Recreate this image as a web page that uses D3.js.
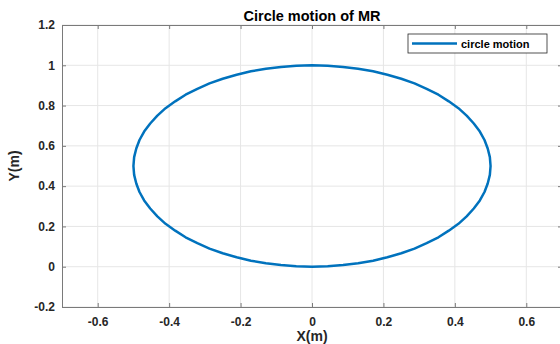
<!DOCTYPE html>
<html>
<head>
<meta charset="utf-8">
<script src="https://cdn.jsdelivr.net/npm/d3@7"></script>
<style>
  body { margin: 0; background: #fff; }
  text { font-family: "Liberation Sans", Arial, sans-serif; }
</style>
</head>
<body>
<script>
// circle path points (centre 0,0.5, radius 0.5)
const xs = [0, 0.044, 0.087, 0.129, 0.171, 0.211, 0.25, 0.287, 0.321, 0.354, 0.383, 0.410,
  0.433, 0.453, 0.470, 0.483, 0.492, 0.498, 0.5, 0.498, 0.492, 0.483, 0.470, 0.453,
  0.433, 0.410, 0.383, 0.354, 0.321, 0.287, 0.25, 0.211, 0.171, 0.129, 0.087, 0.044, 0,
  -0.044, -0.087, -0.129, -0.171, -0.211, -0.25, -0.287, -0.321, -0.354, -0.383, -0.410,
  -0.433, -0.453, -0.470, -0.483, -0.492, -0.498, -0.5, -0.498, -0.492, -0.483, -0.470, -0.453,
  -0.433, -0.410, -0.383, -0.354, -0.321, -0.287, -0.25, -0.211, -0.171, -0.129, -0.087, -0.044, 0]
const ys = [0, 0.002, 0.008, 0.017, 0.030, 0.047, 0.067, 0.090, 0.117, 0.146, 0.179, 0.213,
  0.25, 0.289, 0.329, 0.371, 0.413, 0.456, 0.5, 0.544, 0.587, 0.629, 0.671, 0.711,
  0.75, 0.787, 0.821, 0.854, 0.883, 0.910, 0.933, 0.953, 0.970, 0.983, 0.992, 0.998, 1,
  0.998, 0.992, 0.983, 0.970, 0.953, 0.933, 0.910, 0.883, 0.854, 0.821, 0.787,
  0.75, 0.711, 0.671, 0.629, 0.587, 0.544, 0.5, 0.456, 0.413, 0.371, 0.329, 0.289,
  0.25, 0.213, 0.179, 0.146, 0.117, 0.090, 0.067, 0.047, 0.030, 0.017, 0.008, 0.002, 0]
const xTicks = [-0.6, -0.4, -0.2, 0, 0.2, 0.4, 0.6]
const yTicks = [-0.2, 0, 0.2, 0.4, 0.6, 0.8, 1, 1.2]

const W = 560, H = 344
const margin = { top: 25, left: 62, bottom: 37, right: -2 }
const width = W - margin.left - margin.right
const height = H - margin.top - margin.bottom

const svg = d3.select('body').append('svg')
  .attr('width', W).attr('height', H)
const g = svg.append('g').attr('transform', `translate(${margin.left},${margin.top})`)

const x = d3.scaleLinear().domain([-0.7, 0.7]).range([0, width])
const y = d3.scaleLinear().domain([-0.2, 1.2]).range([height, 0])

// grid
g.selectAll('.gx').data(xTicks).join('line')
  .attr('x1', d => x(d)).attr('x2', d => x(d))
  .attr('y1', 0).attr('y2', height)
  .attr('stroke', '#e6e6e6').attr('stroke-width', 1)
g.selectAll('.gy').data(yTicks).join('line')
  .attr('y1', d => y(d)).attr('y2', d => y(d))
  .attr('x1', 0).attr('x2', width)
  .attr('stroke', '#e6e6e6').attr('stroke-width', 1)

// axes (ticks inward, box on)
const axisColor = '#7a7a7a'
const fmt = d => String(d)
const styleAxis = sel => {
  sel.select('.domain').attr('stroke', axisColor)
  sel.selectAll('.tick line').attr('stroke', axisColor)
  sel.selectAll('.tick text')
    .attr('fill', '#262626')
    .style('font-size', '12px')
    .style('font-weight', 'bold')
}
g.append('g').attr('transform', `translate(0,${height})`)
  .call(d3.axisBottom(x).tickValues(xTicks).tickFormat(fmt).tickSizeInner(-4).tickSizeOuter(0).tickPadding(10))
  .call(styleAxis)
g.append('g')
  .call(d3.axisLeft(y).tickValues(yTicks).tickFormat(fmt).tickSizeInner(-4).tickSizeOuter(0).tickPadding(7))
  .call(styleAxis)
g.append('g')
  .call(d3.axisTop(x).tickValues(xTicks).tickFormat('').tickSizeInner(-4).tickSizeOuter(0))
  .call(styleAxis)
g.append('g').attr('transform', `translate(${width},0)`)
  .call(d3.axisRight(y).tickValues(yTicks).tickFormat('').tickSizeInner(-4).tickSizeOuter(0))
  .call(styleAxis)

// curve
const pts = xs.map((v, i) => [v, ys[i]])
g.append('path').datum(pts)
  .attr('fill', 'none')
  .attr('stroke', '#0072BD')
  .attr('stroke-width', 2.5)
  .attr('stroke-linejoin', 'round')
  .attr('d', d3.line().x(d => x(d[0])).y(d => y(d[1])))

// title and labels
svg.append('text').attr('x', 312).attr('y', 21)
  .attr('text-anchor', 'middle').style('font-size', '14.5px').style('font-weight', 'bold')
  .attr('fill', '#000').text('Circle motion of MR')
svg.append('text').attr('x', 312).attr('y', 341)
  .attr('text-anchor', 'middle').style('font-size', '14px').style('font-weight', 'bold')
  .attr('fill', '#262626').text('X(m)')
svg.append('text').attr('transform', `translate(19,${margin.top + y(0.5)}) rotate(-90)`)
  .attr('text-anchor', 'middle').style('font-size', '14px').style('font-weight', 'bold')
  .attr('fill', '#262626').text('Y(m)')

// legend
const lg = svg.append('g').attr('transform', 'translate(408,34)')
lg.append('rect').attr('width', 139).attr('height', 19)
  .attr('fill', '#fff').attr('stroke', '#262626').attr('stroke-width', 0.8)
lg.append('line').attr('x1', 4).attr('x2', 49).attr('y1', 9.5).attr('y2', 9.5)
  .attr('stroke', '#0072BD').attr('stroke-width', 2.5)
lg.append('text').attr('x', 53).attr('y', 14)
  .style('font-size', '11px').style('font-weight', 'bold')
  .attr('fill', '#000').text('circle motion')
</script>
</body>
</html>
